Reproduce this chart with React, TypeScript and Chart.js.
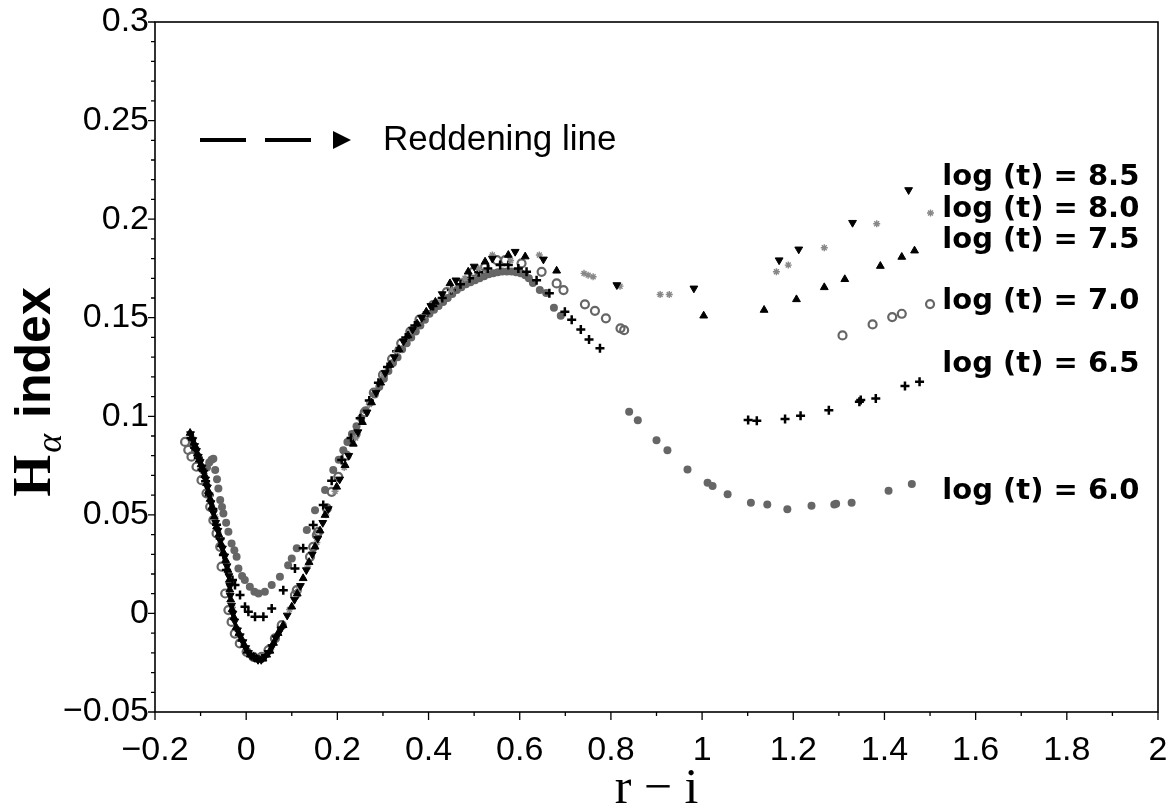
import React, { useEffect, useRef } from "react";
import { Chart, registerables } from "chart.js";

Chart.register(...registerables);

// ---- axis ranges / labels ----
const X_MIN = -0.2;
const X_MAX = 2;
const Y_MIN = -0.05;
const Y_MAX = 0.3;
const X_STEP = 0.2;
const Y_STEP = 0.05;

// ---- series (r-i, H-alpha index) ----
const t60: [number, number][] = [
  [-0.086, 0.074], [-0.081, 0.0765], [-0.076, 0.078], [-0.072, 0.0785], [-0.068, 0.0727], [-0.064, 0.068],
  [-0.061, 0.0634], [-0.057, 0.0575], [-0.053, 0.054], [-0.05, 0.0507], [-0.044, 0.046], [-0.039, 0.0414],
  [-0.032, 0.0355], [-0.026, 0.032], [-0.021, 0.0287], [-0.017, 0.0228], [-0.009, 0.019], [-0.003, 0.0169],
  [0.008, 0.0135], [0.018, 0.011], [0.027, 0.0101], [0.041, 0.011], [0.056, 0.0144], [0.074, 0.0186],
  [0.092, 0.0245], [0.1, 0.0279], [0.111, 0.033], [0.133, 0.0423], [0.151, 0.0524], [0.173, 0.0626],
  [0.191, 0.0727], [0.203, 0.078], [0.213, 0.0828], [0.222, 0.087], [0.232, 0.091], [0.242, 0.095],
  [0.252, 0.099], [0.262, 0.103], [0.272, 0.107], [0.282, 0.111], [0.292, 0.115], [0.302, 0.119],
  [0.312, 0.123], [0.322, 0.127], [0.332, 0.13], [0.342, 0.134], [0.352, 0.137], [0.362, 0.14],
  [0.372, 0.143], [0.382, 0.146], [0.392, 0.149], [0.402, 0.152], [0.412, 0.154], [0.422, 0.156],
  [0.432, 0.158], [0.442, 0.16], [0.452, 0.162], [0.462, 0.164], [0.472, 0.1655], [0.482, 0.167],
  [0.492, 0.168], [0.502, 0.169], [0.512, 0.17], [0.522, 0.171], [0.532, 0.172], [0.542, 0.1725],
  [0.552, 0.173], [0.562, 0.1735], [0.572, 0.1735], [0.582, 0.1735], [0.592, 0.173], [0.602, 0.1725],
  [0.612, 0.1715], [0.62, 0.17], [0.629, 0.1676], [0.644, 0.164], [0.658, 0.1625], [0.675, 0.155],
  [0.69, 0.151], [0.84, 0.1023], [0.859, 0.098], [0.9, 0.0879], [0.924, 0.0828], [0.968, 0.073],
  [1.012, 0.0663], [1.023, 0.0646], [1.056, 0.0604], [1.107, 0.0561], [1.143, 0.0553], [1.187, 0.0528],
  [1.24, 0.0546], [1.29, 0.0553], [1.294, 0.0556], [1.328, 0.0561], [1.409, 0.0622], [1.46, 0.0656],
];

const t65: [number, number][] = [
  [-0.121, 0.089], [-0.113, 0.084], [-0.105, 0.079], [-0.097, 0.073], [-0.089, 0.067], [-0.081, 0.06],
  [-0.073, 0.053], [-0.065, 0.045], [-0.057, 0.038], [-0.05, 0.0296], [-0.043, 0.022], [-0.03, 0.017],
  [-0.0245, 0.0144], [-0.0135, 0.0093], [-0.0026, 0.0034], [0.0048, 0.0009], [0.0194, -0.0017],
  [0.0377, -0.0017], [0.056, 0.0025], [0.0814, 0.0118], [0.107, 0.0228], [0.125, 0.033], [0.147, 0.0448],
  [0.169, 0.055], [0.1875, 0.0673], [0.2095, 0.0778], [0.23, 0.089], [0.25, 0.099], [0.27, 0.108],
  [0.29, 0.117], [0.31, 0.125], [0.33, 0.133], [0.35, 0.14], [0.37, 0.146], [0.39, 0.151], [0.41, 0.156],
  [0.43, 0.16], [0.45, 0.164], [0.47, 0.167], [0.49, 0.17], [0.51, 0.173], [0.53, 0.175], [0.557, 0.1767],
  [0.575, 0.1767], [0.597, 0.175], [0.615, 0.1733], [0.637, 0.169], [0.665, 0.1624], [0.699, 0.153],
  [0.714, 0.149], [0.734, 0.144], [0.752, 0.139], [0.776, 0.1345], [1.101, 0.0981], [1.12, 0.0977],
  [1.182, 0.0986], [1.216, 0.1003], [1.278, 0.1031], [1.345, 0.1074], [1.348, 0.1082], [1.381, 0.109],
  [1.445, 0.1153], [1.477, 0.1175],
];

const t70: [number, number][] = [
  [-0.134, 0.087], [-0.127, 0.0829], [-0.12, 0.0795], [-0.109, 0.0744], [-0.098, 0.0676], [-0.087, 0.0609],
  [-0.079, 0.0541], [-0.072, 0.0473], [-0.065, 0.0406], [-0.057, 0.0338], [-0.054, 0.0237], [-0.046, 0.0101],
  [-0.039, 0.0017], [-0.032, -0.0043], [-0.025, -0.0102], [-0.014, -0.0152], [0.001, -0.0195], [0.016, -0.022],
  [0.034, -0.022], [0.049, -0.0186], [0.063, -0.0127], [0.078, -0.0059], [0.107, 0.0093], [0.111, 0.0118],
  [0.14, 0.0287], [0.147, 0.0338], [0.155, 0.0397], [0.158, 0.0414], [0.177, 0.0533], [0.1875, 0.0617],
  [0.202, 0.0693], [0.22, 0.08], [0.24, 0.091], [0.26, 0.102], [0.28, 0.112], [0.3, 0.121], [0.32, 0.129],
  [0.34, 0.137], [0.36, 0.143], [0.38, 0.149], [0.41, 0.1564], [0.44, 0.163], [0.469, 0.1674], [0.498, 0.1733],
  [0.524, 0.1758], [0.55, 0.1792], [0.568, 0.1792], [0.604, 0.1776], [0.648, 0.1733], [0.681, 0.1674],
  [0.696, 0.164], [0.743, 0.1568], [0.765, 0.1535], [0.789, 0.1497], [0.821, 0.1446], [0.829, 0.1437],
  [1.308, 0.141], [1.374, 0.1466], [1.417, 0.1503], [1.438, 0.152], [1.5, 0.1569],
];

const t75: [number, number][] = [
  [-0.123, 0.0915], [-0.119, 0.089], [-0.115, 0.0865], [-0.111, 0.084], [-0.107, 0.081], [-0.103, 0.078],
  [-0.099, 0.0755], [-0.095, 0.073], [-0.091, 0.07], [-0.087, 0.066], [-0.083, 0.062], [-0.079, 0.058],
  [-0.075, 0.054], [-0.07, 0.049], [-0.065, 0.044], [-0.06, 0.04], [-0.055, 0.035], [-0.05, 0.031],
  [-0.045, 0.027], [-0.04, 0.022], [-0.037, 0.017], [-0.036, 0.012], [-0.034, 0.007], [-0.031, 0.002],
  [-0.027, -0.002], [-0.022, -0.007], [-0.016, -0.01], [-0.01, -0.013], [-0.004, -0.016], [0.002, -0.019],
  [0.009, -0.021], [0.016, -0.022], [0.023, -0.023], [0.03, -0.0235], [0.037, -0.023], [0.045, -0.021],
  [0.052, -0.019], [0.06, -0.015], [0.07, -0.01], [0.081, -0.006], [0.1, 0.0034], [0.112, 0.01],
  [0.125, 0.0178], [0.138, 0.026], [0.151, 0.0338], [0.162, 0.042], [0.173, 0.0499], [0.1985, 0.0642],
  [0.217, 0.0752], [0.235, 0.086], [0.255, 0.097], [0.275, 0.107], [0.295, 0.117], [0.315, 0.126],
  [0.335, 0.134], [0.355, 0.141], [0.375, 0.147], [0.395, 0.153], [0.415, 0.158], [0.447, 0.1674],
  [0.487, 0.1733], [0.524, 0.1784], [0.575, 0.1818], [0.612, 0.181], [0.681, 0.1738], [1.0035, 0.151],
  [1.136, 0.1539], [1.207, 0.1593], [1.268, 0.1654], [1.313, 0.1695], [1.391, 0.1762], [1.438, 0.1808],
  [1.466, 0.184],
];

const t80: [number, number][] = [
  [-0.118, 0.088], [-0.105, 0.08], [-0.092, 0.071], [-0.08, 0.06], [-0.068, 0.049], [-0.056, 0.037],
  [-0.045, 0.026], [-0.036, 0.014], [-0.03, 0.003], [-0.02, -0.008], [-0.006, -0.016], [0.01, -0.021],
  [0.025, -0.0235], [0.04, -0.022], [0.056, -0.017], [0.075, -0.008], [0.095, 0.002], [0.115, 0.012],
  [0.135, 0.024], [0.155, 0.036], [0.175, 0.05], [0.195, 0.062], [0.215, 0.074], [0.24, 0.089],
  [0.27, 0.106], [0.3, 0.121], [0.33, 0.133], [0.36, 0.143], [0.39, 0.151], [0.42, 0.158], [0.45, 0.164],
  [0.48, 0.17], [0.51, 0.175], [0.54, 0.1818], [0.58, 0.179], [0.643, 0.1818], [0.741, 0.1725],
  [0.75, 0.1716], [0.761, 0.1708], [0.82, 0.166], [0.908, 0.1618], [0.928, 0.1618], [1.163, 0.1733],
  [1.189, 0.1767], [1.268, 0.1855], [1.383, 0.1977], [1.501, 0.2031],
];

const t85: [number, number][] = [
  [-0.122, 0.091], [-0.117, 0.088], [-0.113, 0.085], [-0.109, 0.0825], [-0.105, 0.0795], [-0.101, 0.077],
  [-0.097, 0.074], [-0.093, 0.0715], [-0.089, 0.068], [-0.085, 0.064], [-0.081, 0.06], [-0.077, 0.056],
  [-0.072, 0.051], [-0.067, 0.046], [-0.062, 0.042], [-0.057, 0.037], [-0.052, 0.033], [-0.047, 0.029],
  [-0.042, 0.024], [-0.038, 0.019], [-0.036, 0.014], [-0.035, 0.009], [-0.032, 0.004], [-0.029, 0.0],
  [-0.025, -0.004], [-0.019, -0.0085], [-0.013, -0.0115], [-0.007, -0.0145], [-0.001, -0.0175],
  [0.005, -0.02], [0.012, -0.0215], [0.019, -0.0225], [0.026, -0.0235], [0.033, -0.0235], [0.041, -0.022],
  [0.048, -0.02], [0.056, -0.017], [0.065, -0.0125], [0.076, -0.008], [0.09, -0.001], [0.106, 0.007],
  [0.119, 0.014], [0.132, 0.022], [0.145, 0.03], [0.157, 0.038], [0.168, 0.046], [0.18, 0.053],
  [0.205, 0.068], [0.225, 0.08], [0.245, 0.092], [0.265, 0.102], [0.285, 0.112], [0.305, 0.122],
  [0.325, 0.13], [0.345, 0.138], [0.365, 0.144], [0.385, 0.15], [0.405, 0.156], [0.43, 0.162],
  [0.46, 0.169], [0.5, 0.176], [0.54, 0.18], [0.59, 0.1835], [0.652, 0.1796], [0.813, 0.1666],
  [0.982, 0.1649], [1.169, 0.1792], [1.212, 0.1847], [1.33, 0.1982], [1.453, 0.2148],
];

// ---- text annotations ----
const ageLabels = ["log (t) = 8.5", "log (t) = 8.0", "log (t) = 7.5", "log (t) = 7.0", "log (t) = 6.5", "log (t) = 6.0"];
const ageLabelX = 1.527;
const ageLabelY = [0.2209, 0.2051, 0.1894, 0.1584, 0.1265, 0.062];
const legendText = "Reddening line";

const fmt = (v: number | string) => {
  const n = Math.round(Number(v) * 1000) / 1000;
  if (n === 0) return "0";
  return (n < 0 ? "\u2212" : "") + String(Math.abs(n));
};

const toXY = (arr: [number, number][]) => arr.map(([x, y]) => ({ x, y }));

const zeroPad = (s: any) => {
  s.paddingLeft = 0;
  s.paddingRight = 0;
  s.paddingTop = 0;
  s.paddingBottom = 0;
};

const decorPlugin = {
  id: "decor",
  afterDraw(chart: any) {
    const ctx: CanvasRenderingContext2D = chart.ctx;
    const { left, right, top, bottom } = chart.chartArea;
    const xs = chart.scales.x;
    const ys = chart.scales.y;
    ctx.save();
    // frame
    ctx.strokeStyle = "#000";
    ctx.lineWidth = 1.6;
    ctx.strokeRect(left, top, right - left, bottom - top);
    // ticks
    ctx.lineWidth = 1.3;
    ctx.beginPath();
    const nx = Math.round((X_MAX - X_MIN) / 0.1);
    for (let i = 0; i <= nx; i++) {
      const px = xs.getPixelForValue(X_MIN + i * 0.1);
      const len = i % 2 === 0 ? 8 : 4;
      ctx.moveTo(px, bottom);
      ctx.lineTo(px, bottom + len);
    }
    const ny = Math.round((Y_MAX - Y_MIN) / 0.01);
    for (let i = 0; i <= ny; i++) {
      const py = ys.getPixelForValue(Y_MIN + i * 0.01);
      const len = i % 5 === 0 ? 7 : 4;
      ctx.moveTo(left, py);
      ctx.lineTo(left - len, py);
    }
    ctx.stroke();

    // age labels
    ctx.fillStyle = "#000";
    ctx.font = "bold 29px 'DejaVu Sans'";
    ctx.textAlign = "left";
    ctx.textBaseline = "middle";
    ageLabels.forEach((t, i) => {
      ctx.fillText(t, xs.getPixelForValue(ageLabelX), ys.getPixelForValue(ageLabelY[i]));
    });

    // reddening legend
    const ly = top + 118;
    ctx.lineWidth = 4;
    ctx.beginPath();
    ctx.moveTo(left + 45, ly);
    ctx.lineTo(left + 91, ly);
    ctx.moveTo(left + 110, ly);
    ctx.lineTo(left + 156, ly);
    ctx.stroke();
    ctx.beginPath();
    ctx.moveTo(left + 178, ly - 9);
    ctx.lineTo(left + 196, ly);
    ctx.lineTo(left + 178, ly + 9);
    ctx.closePath();
    ctx.fill();
    ctx.font = "35px 'Liberation Sans'";
    ctx.fillText(legendText, left + 228, ly);

    // x title
    ctx.font = "50px 'Liberation Serif'";
    ctx.textAlign = "center";
    ctx.textBaseline = "alphabetic";
    ctx.fillText("r \u2212 i", (left + right) / 2, 803);

    // y title
    ctx.translate(50, 392);
    ctx.rotate(-Math.PI / 2);
    const fH = "bold 54px 'Liberation Serif'";
    const fA = "italic 36px 'Liberation Serif'";
    const fI = "bold 50px 'Liberation Sans'";
    ctx.font = fH;
    const wH = ctx.measureText("H").width;
    ctx.font = fA;
    const wA = ctx.measureText("\u03b1").width;
    ctx.font = fI;
    const wI = ctx.measureText(" index").width;
    const tot = wH + wA + 4 + wI;
    let cx = -tot / 2;
    ctx.textAlign = "left";
    ctx.font = fH;
    ctx.fillText("H", cx, 0);
    cx += wH + 2;
    ctx.font = fA;
    ctx.fillText("\u03b1", cx, 11);
    cx += wA + 2;
    ctx.font = fI;
    ctx.fillText(" index", cx, 0);
    ctx.restore();
  },
};

export default function App() {
  const ref = useRef<HTMLCanvasElement | null>(null);
  useEffect(() => {
    if (!ref.current) return;
    const gray = "#666666";
    const chart = new Chart(ref.current, {
      type: "scatter",
      data: {
        datasets: [
          { label: "8.5", data: toXY(t85), pointStyle: "triangle", rotation: 180, pointRadius: 4.5, backgroundColor: "#000", borderColor: "#000", borderWidth: 1 } as any,
          { label: "7.5", data: toXY(t75), pointStyle: "triangle", pointRadius: 4.5, backgroundColor: "#000", borderColor: "#000", borderWidth: 1 },
          { label: "8.0", data: toXY(t80), pointStyle: "star", pointRadius: 3.5, backgroundColor: "#888", borderColor: "#888", borderWidth: 1.4 },
          { label: "6.5", data: toXY(t65), pointStyle: "cross", pointRadius: 4.5, backgroundColor: "#000", borderColor: "#000", borderWidth: 2.5 },
          { label: "7.0", data: toXY(t70), pointStyle: "circle", pointRadius: 4, backgroundColor: "rgba(0,0,0,0)", borderColor: gray, borderWidth: 2.2 },
          { label: "6.0", data: toXY(t60), pointStyle: "circle", pointRadius: 4, backgroundColor: gray, borderColor: gray, borderWidth: 0 },
        ],
      },
      options: {
        responsive: false,
        animation: false,
        events: [],
        layout: { padding: { top: 22, right: 11, left: 0, bottom: 0 } },
        plugins: { legend: { display: false }, tooltip: { enabled: false } },
        scales: {
          x: {
            type: "linear",
            min: X_MIN,
            max: X_MAX,
            grid: { display: false, drawTicks: false },
            border: { display: false },
            ticks: {
              stepSize: X_STEP,
              color: "#000",
              padding: 18,
              font: { family: "'Liberation Sans'", size: 34 },
              callback: (v: any) => fmt(v),
              maxRotation: 0,
              autoSkip: false,
            },
            afterFit: (s: any) => {
              s.height = 96;
              zeroPad(s);
            },
          },
          y: {
            type: "linear",
            min: Y_MIN,
            max: Y_MAX,
            grid: { display: false, drawTicks: false },
            border: { display: false },
            ticks: {
              stepSize: Y_STEP,
              color: "#000",
              padding: 6,
              font: { family: "'Liberation Sans'", size: 34 },
              callback: (v: any) => fmt(v),
              autoSkip: false,
            },
            afterFit: (s: any) => {
              s.width = 155;
              zeroPad(s);
            },
          },
        },
      },
      plugins: [decorPlugin],
    });
    return () => chart.destroy();
  }, []);
  return (
    <div style={{ position: "fixed", left: 0, top: 0, width: 1169, height: 808, background: "#fff" }}>
      <canvas ref={ref} width={1169} height={808} style={{ width: 1169, height: 808, display: "block" }} />
    </div>
  );
}
